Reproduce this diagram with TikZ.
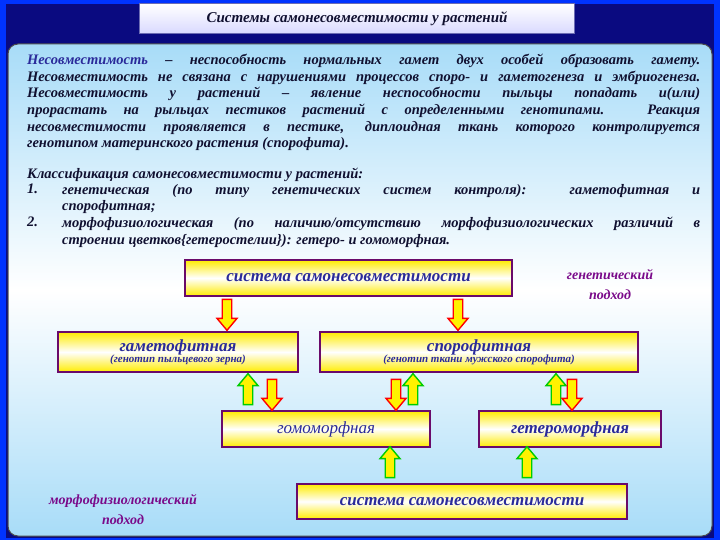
\documentclass[tikz,border=0pt]{standalone}
\usepackage{fontspec}
\setmainfont{Liberation Serif}
\usetikzlibrary{shapes.arrows}
\definecolor{navy}{HTML}{0A0A80}
\definecolor{ink}{HTML}{101030}
\definecolor{bluetxt}{HTML}{2A2A9A}
\definecolor{purp}{HTML}{7A0A8A}
\definecolor{boxb}{HTML}{6A0A6A}
\definecolor{pale}{HTML}{A8DCF8}
\tikzset{
 ybox/.style={draw=boxb,line width=2.2pt,top color=yellow!85!orange,bottom color=yellow!85!orange,middle color=white,inner sep=0pt},
 boxtxt/.style={font=\bfseries\itshape\fontsize{17}{19}\selectfont,text=bluetxt},
 dnarr/.style={single arrow,draw=red,line width=1.4pt,fill=yellow,rotate=-90,minimum height=31pt,minimum width=20pt,single arrow head extend=3pt,single arrow tip angle=80,inner sep=2pt},
 uparr/.style={single arrow,draw=green!80!black,line width=1.4pt,fill=yellow,rotate=90,minimum height=31pt,minimum width=20pt,single arrow head extend=3pt,single arrow tip angle=80,inner sep=2pt},
 body/.style={font=\bfseries\itshape\fontsize{14.5}{16.6}\selectfont,text=ink,anchor=north west,align=justify,inner sep=0pt},
 approach/.style={font=\bfseries\itshape\fontsize{14}{20}\selectfont,text=purp,align=center}
}
\begin{document}
\begin{tikzpicture}[x=1pt,y=-1pt]
\useasboundingbox (0,0) rectangle (720,540);
\shade[inner color=navy,outer color=blue!80!cyan] (0,0) rectangle (720,540);
\fill[navy] (6,4) rectangle (714,538);
\node[draw=navy!60,line width=1pt,top color=white,bottom color=blue!15,minimum width=435pt,minimum height=30pt,font=\itshape\bfseries\fontsize{15}{16}\selectfont,text=ink] (title) at (357,19) {Системы самонесовместимости у растений};
\shade[rounded corners=10pt,top color=pale,bottom color=pale,middle color=white,draw=black!70,line width=1pt] (8,44) rectangle (712,536);
\node[body,text width=673pt] (p1) at (27,54) {\textcolor{bluetxt}{Несовместимость} – неспособность нормальных гамет двух особей образовать гамету.\linebreak
Несовместимость не связана с нарушениями процессов споро- и гаметогенеза и эмбриогенеза.\linebreak
Несовместимость у растений – явление неспособности пыльцы попадать и(или)\linebreak
прорастать на рыльцах пестиков растений с определенными генотипами. Реакция\linebreak
несовместимости проявляется в пестике, диплоидная ткань которого контролируется\linebreak
генотипом материнского растения (спорофита).};
\node[body,text width=673pt] (p2) at (27,168) {Классификация самонесовместимости у растений:};
\node[body] (n1) at (27,184) {1.};
\node[body,text width=638pt] (i1) at (62,184) {генетическая (по типу генетических систем контроля): гаметофитная и\linebreak спорофитная;};
\node[body] (n2) at (27,217) {2.};
\node[body,text width=638pt] (i2) at (62,217) {морфофизиологическая (по наличию/отсутствию морфофизиологических различий в\linebreak строении цветков\{гетеростелии\}): гетеро- и гомоморфная.};
% boxes
\node[ybox,minimum width=327pt,minimum height=36pt,boxtxt] (sys1) at (348.5,278) {система самонесовместимости};
\node[ybox,minimum width=240pt,minimum height=40pt,align=center,text=bluetxt] (gam) at (178,352) {{\bfseries\itshape\fontsize{17}{18}\selectfont гаметофитная}\\[-1pt]{\bfseries\itshape\fontsize{11}{12}\selectfont (генотип пыльцевого зерна)}};
\node[ybox,minimum width=318pt,minimum height=40pt,align=center,text=bluetxt] (spo) at (479,352) {{\bfseries\itshape\fontsize{17}{18}\selectfont спорофитная}\\[-1pt]{\bfseries\itshape\fontsize{11}{12}\selectfont (генотип ткани мужского спорофита)}};
\node[ybox,minimum width=208pt,minimum height=36pt,boxtxt,font=\itshape\fontsize{17}{19}\selectfont] (hom) at (326,429) {гомоморфная};
\node[ybox,minimum width=182pt,minimum height=36pt,boxtxt] (het) at (570,429) {гетероморфная};
\node[ybox,minimum width=330pt,minimum height=35pt,boxtxt] (sys2) at (462,501.5) {система самонесовместимости};
\node[approach] (gen) at (610,285) {генетический\\подход};
\node[approach] (mor) at (123,510) {морфофизиологический\\подход};
% arrows
\node[dnarr] (a1) at (227,312) {};
\node[dnarr] (a2) at (458,312) {};
\node[uparr] (a3) at (248,392) {};
\node[dnarr] (a4) at (272,392) {};
\node[dnarr] (a5) at (396,392) {};
\node[uparr] (a6) at (413,392) {};
\node[uparr] (a7) at (556,392) {};
\node[dnarr] (a8) at (572,392) {};
\node[uparr] (a9) at (390,465) {};
\node[uparr] (a10) at (527,465) {};
\end{tikzpicture}
\end{document}
